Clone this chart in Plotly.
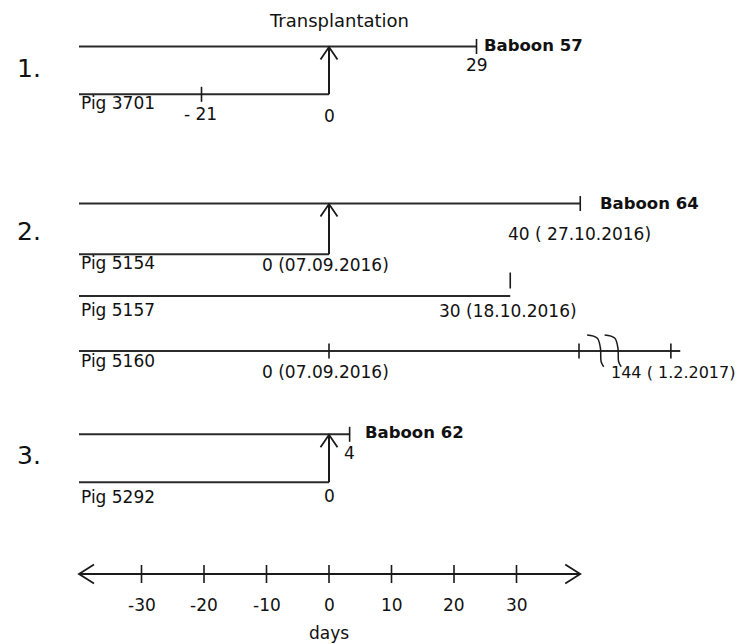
import plotly.graph_objects as go

# ---------------- data (days relative to transplantation) ----------------
experiments = ["1.", "2.", "3."]
baboons = ["Baboon 57", "Baboon 64", "Baboon 62"]
baboon_end_day = [23.6, 40.2, 3.3]          # drawn end of the graft survival line
baboon_end_label = ["29", "40 ( 27.10.2016)", "4"]
pigs = ["Pig 3701", "Pig 5154", "Pig 5157", "Pig 5160", "Pig 5292"]
pig_experiment = [0, 1, 1, 1, 2]
pig_end_day = [0, 0, 29, 56.2, 0]
pig_transplanted = [True, True, False, False, True]
pig_mark_day = [[-20.4], [], [29], [0, 40, 54.7], []]
break_day = [41.3, 44.1]
timeline_start = -40
axis_ticks = [-30, -20, -10, 0, 10, 20, 30]
axis_tick_labels = ["-30", "-20", "-10", "0", "10", "20", "30"]
axis_start, axis_end = -40, 40.2

# ---------------- layout constants ----------------
W, H = 747, 644
PAGE_OFF = 8          # default page margin around the plot div
PXD = 6.25            # pixels per day
ZERO_PX = 329         # window pixel position of day 0
baboon_row_y = [46.5, 203.5, 434.3]
pig_row_y = [94.3, 254.3, 296, 351, 482.3]
AXIS_Y = 574
INK = "#1a1a1a"
TXT = "#111111"
FONT = "DejaVu Sans"


def hx(px):
    return px / PXD


fig = go.Figure()


def seg(xs, ys, width=2.0, color=INK, shape="linear"):
    fig.add_trace(go.Scatter(x=xs, y=ys, mode="lines",
                             line=dict(color=color, width=width, shape=shape),
                             hoverinfo="skip", showlegend=False))


def tick(x, yc, up=7.5, down=7.5, width=1.6):
    seg([x, x], [yc - up, yc + down], width=width)


annotations = []


def ann(text, x, y, xanchor="left", xshift=0, size=17, bold=False):
    annotations.append(dict(
        text=f"<b>{text}</b>" if bold else text, x=x, y=y, xref="x", yref="y",
        xanchor=xanchor, yanchor="middle", xshift=xshift, showarrow=False,
        font=dict(family=FONT, size=size, color=TXT)))


# baboon (recipient) timelines
for i, name in enumerate(baboons):
    y = baboon_row_y[i]
    end = baboon_end_day[i]
    seg([timeline_start, end], [y, y], color="#2a2a2a")
    tick(end, y)

# pig (donor) timelines
for j, name in enumerate(pigs):
    y = pig_row_y[j]
    seg([timeline_start, pig_end_day[j]], [y, y], color="#2a2a2a")
    if pig_transplanted[j]:
        yb = baboon_row_y[pig_experiment[j]]
        seg([pig_end_day[j], pig_end_day[j]], [y, yb + 0.5])
        seg([pig_end_day[j] - hx(8.5), pig_end_day[j], pig_end_day[j] + hx(8.5)],
            [yb + 13, yb + 0.5, yb + 13], width=1.8)
    for d in pig_mark_day[j]:
        if pigs[j] == "Pig 5157":
            tick(d, y - 15.5, up=8, down=8)   # detached end mark
        else:
            tick(d, y)

# axis break marks on the Pig 5160 line
brk_off = [(0, 335), (10, 338), (13.3, 348), (14, 361.7), (16.6, 366.7)]
for b in break_day:
    seg([b + hx(dx) for dx, _ in brk_off], [yy for _, yy in brk_off],
        width=1.5, shape="spline")

# bottom day axis
seg([axis_start, axis_end], [AXIS_Y, AXIS_Y])
seg([axis_start + hx(15), axis_start, axis_start + hx(15)],
    [AXIS_Y - 9.5, AXIS_Y, AXIS_Y + 9.5], width=1.8)
seg([axis_end - hx(15), axis_end, axis_end - hx(15)],
    [AXIS_Y - 9.5, AXIS_Y, AXIS_Y + 9.5], width=1.8)
for t, lab in zip(axis_ticks, axis_tick_labels):
    tick(t, AXIS_Y, up=9, down=9)
    ann(lab, t, 605, xanchor="center")
ann("days", 0, 633, xanchor="center")

# texts
ann("Transplantation", 0, 20, xanchor="center", xshift=9.5, size=18)
for i, e in enumerate(experiments):
    ann(e, timeline_start, [68, 231, 455][i], xshift=-64, size=25)

ann(baboons[0], baboon_end_day[0], 45.5, xshift=5, bold=True, size=16.5)
ann(baboons[1], baboon_end_day[1], 203, xshift=18, bold=True, size=16.5)
ann(baboons[2], baboon_end_day[2], 432, xshift=13, bold=True, size=16.5)
ann(baboon_end_label[0], baboon_end_day[0], 65, xanchor="center")
ann(baboon_end_label[1], baboon_end_day[1], 234, xshift=-74)
ann(baboon_end_label[2], baboon_end_day[2], 453, xanchor="center")

for j, name in enumerate(pigs):
    ann(name, timeline_start, pig_row_y[j] + [9, 9, 14, 10, 14.5][j])

ann("- 21", pig_mark_day[0][0], 114, xanchor="center", xshift=-1)
ann("0", 0, 116, xanchor="center")
ann("0 (07.09.2016)", 0, 265, xshift=-69)
ann("30 (18.10.2016)", pig_mark_day[2][0], 311, xshift=-73)
ann("0 (07.09.2016)", pig_mark_day[3][0], 372, xshift=-69)
ann("144 ( 1.2.2017)", pig_mark_day[3][2], 372, xshift=-62, size=16)
ann("0", 0, 496, xanchor="center")

FW, FH = W - PAGE_OFF, H - PAGE_OFF
x0 = (PAGE_OFF - ZERO_PX) / PXD
fig.update_layout(
    width=FW, height=FH, margin=dict(l=0, r=0, t=0, b=0),
    paper_bgcolor="white", plot_bgcolor="white",
    xaxis=dict(range=[x0, x0 + FW / PXD], visible=False, fixedrange=True),
    yaxis=dict(range=[H, PAGE_OFF], visible=False, fixedrange=True),
    annotations=annotations, hovermode=False, showlegend=False,
)
fig.write_html("out.html")
